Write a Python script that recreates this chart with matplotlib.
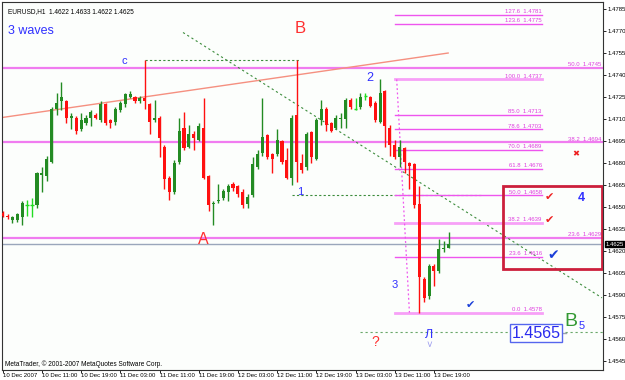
import matplotlib.pyplot as plt
import numpy as np

plt.rcParams['font.family'] = ['Liberation Sans', 'DejaVu Sans']

# EURUSD H1 bars, 10 Dec 2007 03:00 .. 13 Dec 22:00
opens = [1.4646, 1.4644, 1.4641, 1.4641, 1.4643, 1.4651, 1.4651, 1.4651, 1.4672, 1.4671,
         1.4681, 1.4717, 1.4722, 1.4722, 1.4711, 1.4711, 1.4703, 1.4707, 1.4711, 1.4713,
         1.4709, 1.4720, 1.4709, 1.4708, 1.4716, 1.4720, 1.4725, 1.4725, 1.4722, 1.4724,
         1.4720, 1.4709, 1.4711, 1.4691, 1.4670, 1.4660, 1.4681, 1.4704, 1.4691, 1.4700,
         1.4696, 1.4704, 1.4671, 1.4652, 1.4654, 1.4656, 1.4660, 1.4666, 1.4664, 1.4660,
         1.4652, 1.4658, 1.4677, 1.4687, 1.4699, 1.4686, 1.4686, 1.4695, 1.4682, 1.4670,
         1.4713, 1.4680, 1.4677, 1.4701, 1.4683, 1.4709, 1.4717, 1.4707, 1.4704, 1.4710,
         1.4710, 1.4723, 1.4717, 1.4718, 1.4726, 1.4725, 1.4721, 1.4708, 1.4729, 1.4704,
         1.4692, 1.4684, 1.4690, 1.4680, 1.4679, 1.4652, 1.4601, 1.4589, 1.4610, 1.4606,
         1.4621, 1.4622]
highs = [1.4647, 1.4645, 1.4644, 1.4646, 1.4654, 1.4655, 1.4656, 1.4674, 1.4677, 1.4685,
         1.4718, 1.4728, 1.4735, 1.4723, 1.4714, 1.4712, 1.4714, 1.4713, 1.4716, 1.4714,
         1.4722, 1.4721, 1.4710, 1.4718, 1.4722, 1.4728, 1.4729, 1.4726, 1.4726, 1.4750,
         1.4721, 1.4723, 1.4712, 1.4692, 1.4671, 1.4682, 1.4711, 1.4715, 1.4706, 1.4702,
         1.4707, 1.4724, 1.4672, 1.4654, 1.4666, 1.4662, 1.4666, 1.4667, 1.4665, 1.4662,
         1.4659, 1.4684, 1.4689, 1.4724, 1.4700, 1.4687, 1.4703, 1.4696, 1.4690, 1.4713,
         1.4750, 1.4686, 1.4701, 1.4702, 1.4711, 1.4723, 1.4718, 1.4708, 1.4713, 1.4714,
         1.4724, 1.4724, 1.4724, 1.4728, 1.4728, 1.4726, 1.4722, 1.4737, 1.4730, 1.4706,
         1.4696, 1.4696, 1.4691, 1.4681, 1.4680, 1.4664, 1.4602, 1.4611, 1.4611, 1.4628,
         1.4627, 1.4633]
lows = [1.4643, 1.4642, 1.4639, 1.4640, 1.4638, 1.4644, 1.4643, 1.4649, 1.4660, 1.4668,
        1.4680, 1.4713, 1.4716, 1.4707, 1.4703, 1.4700, 1.4702, 1.4706, 1.4705, 1.4710,
        1.4708, 1.4706, 1.4704, 1.4706, 1.4715, 1.4718, 1.4724, 1.4721, 1.4721, 1.4717,
        1.4700, 1.4708, 1.4684, 1.4662, 1.4655, 1.4659, 1.4679, 1.4689, 1.4690, 1.4689,
        1.4695, 1.4669, 1.4647, 1.4638, 1.4653, 1.4655, 1.4654, 1.4661, 1.4657, 1.4649,
        1.4649, 1.4657, 1.4676, 1.4685, 1.4683, 1.4673, 1.4685, 1.4679, 1.4669, 1.4665,
        1.4667, 1.4673, 1.4675, 1.4680, 1.4682, 1.4706, 1.4702, 1.4701, 1.4703, 1.4704,
        1.4704, 1.4717, 1.4716, 1.4717, 1.4723, 1.4718, 1.4708, 1.4707, 1.4691, 1.4685,
        1.4683, 1.4677, 1.4673, 1.4662, 1.4649, 1.4578, 1.4585, 1.4587, 1.4596, 1.4605,
        1.4619, 1.4622]
closes = [1.4644, 1.4643, 1.4643, 1.4645, 1.4653, 1.4651, 1.4651, 1.4673, 1.4673, 1.4683,
          1.4717, 1.4721, 1.4725, 1.4711, 1.4712, 1.4702, 1.4709, 1.4711, 1.4715, 1.4711,
          1.4720, 1.4707, 1.4707, 1.4717, 1.4721, 1.4727, 1.4727, 1.4722, 1.4724, 1.4722,
          1.4708, 1.4711, 1.4697, 1.4669, 1.4660, 1.4680, 1.4702, 1.4690, 1.4700, 1.4697,
          1.4705, 1.4670, 1.4651, 1.4653, 1.4655, 1.4661, 1.4664, 1.4663, 1.4659, 1.4651,
          1.4657, 1.4679, 1.4686, 1.4698, 1.4684, 1.4683, 1.4696, 1.4681, 1.4670, 1.4711,
          1.4681, 1.4675, 1.4700, 1.4684, 1.4709, 1.4717, 1.4706, 1.4702, 1.4711, 1.4711,
          1.4723, 1.4718, 1.4717, 1.4725, 1.4726, 1.4719, 1.4709, 1.4728, 1.4705, 1.4692,
          1.4684, 1.4691, 1.4681, 1.4678, 1.4651, 1.4602, 1.4588, 1.4610, 1.4606, 1.4621,
          1.4622, 1.4625]

time_labels = ['10 Dec 2007', '10 Dec 11:00', '10 Dec 19:00', '11 Dec 03:00', '11 Dec 11:00',
               '11 Dec 19:00', '12 Dec 03:00', '12 Dec 11:00', '12 Dec 19:00', '13 Dec 03:00',
               '13 Dec 11:00', '13 Dec 19:00']

# fibo retracement (wave 2 top -> wave 3 low)
fib_levels = [0.0, 23.6, 38.2, 50.0, 61.8, 70.0, 78.6, 85.0, 100.0, 123.6, 127.6]
fib_prices = [1.4578, 1.4616, 1.4639, 1.4658, 1.4676, 1.4689, 1.4703, 1.4713, 1.4737, 1.4775, 1.4781]

# full width levels
hl_names = ['50.0', '38.2', '23.6']
hl_prices = [1.4745, 1.4694, 1.4629]

bid = 1.4625
target = 1.4565

fs = 4.3  # small terminal font

fig = plt.figure(figsize=(6.25, 3.8), dpi=100)
fig.patch.set_facecolor('white')
ax = fig.add_axes([2 / 625, 10 / 380, 601 / 625, 368 / 380])
ax.set_facecolor('#fcfefc')

n = len(opens)
x = np.arange(n)
o = np.array(opens)
h = np.array(highs)
l = np.array(lows)
c = np.array(closes)

up_col = '#238b23'
dn_col = '#ff1010'
cols = np.where(c > o, up_col, np.where(c < o, dn_col, '#22dd22'))

# horizontal levels
for p in hl_prices:
    ax.axhline(p, color='#f07cf0', lw=1.6, zorder=1)
ax.axhline(bid, color='#9aa6bb', lw=1, zorder=1)

for name, p in zip(hl_names, hl_prices):
    ax.text(122.2, p + 0.00005, f'{name}  {p:.4f}', color='#e040e0', fontsize=fs,
            ha='right', va='bottom', zorder=5)

# salmon trendline
ax.plot([-0.14, 90.9], [1.4711, 1.4755], color='#f59080', lw=1, zorder=2)

# green dotted lines
ax.plot([29, 60.7], [1.4750, 1.4750], color='#3c8c3c', lw=0.8, ls=(0, (2, 2)), zorder=2)
ax.plot([36.8, 122.3], [1.4769, 1.4588], color='#3c8c3c', lw=0.8, ls=(0, (2, 2.5)), zorder=2)
ax.plot([59, 98], [1.4658, 1.4658], color='#3c8c3c', lw=0.8, ls=(0, (2, 2)), zorder=2)
ax.plot([73, 122.5], [target, target], color='#6aa86a', lw=0.8, ls=(0, (2, 2.5)), zorder=2)

# fibo lines
thick = {0.0, 38.2, 100.0}
for lvl, p in zip(fib_levels, fib_prices):
    if lvl in thick:
        ax.plot([80, 110], [p, p], color='#f7a0f7', lw=2, zorder=2)
    else:
        ax.plot([80, 110], [p, p], color='#ee55ee', lw=1, zorder=2)
    ax.text(110, p + 0.00005, f'{lvl:.1f}  {p:.4f}', color='#e040e0', fontsize=fs,
            ha='right', va='bottom', zorder=5)
ax.plot([80.4, 83.0], [fib_prices[8], fib_prices[0]], color='#ee55ee', lw=0.9,
        ls=(0, (1.5, 2)), zorder=2)

# candles
ax.vlines(x, l, h, colors=cols, lw=1, zorder=3)
body = np.abs(c - o)
flat = body < 0.00005
ax.bar(x[~flat], body[~flat], bottom=np.minimum(o, c)[~flat], width=0.62,
       color=cols[~flat], linewidth=0, zorder=4)
ax.hlines(c[flat], x[flat] - 0.35, x[flat] + 0.35, colors='#22dd22', lw=1, zorder=4)

# red rectangle
ax.add_patch(plt.Rectangle((102, 1.4608), 20.2, 1.4664 - 1.4608, fill=False,
                           edgecolor='#cc1f3c', lw=2, zorder=5))

# wave labels
ax.text(60.7, 1.4772, 'B', color='#ff3030', fontsize=12, ha='center', va='center')
ax.text(40.9, 1.4628, 'A', color='#ff3030', fontsize=11.5, ha='center', va='center')
ax.text(24.8, 1.4746, 'c', color='#3030ff', fontsize=8, ha='center', va='bottom')
ax.text(75, 1.4738, '2', color='#3030ff', fontsize=9, ha='center', va='center')
ax.text(60.7, 1.4660, '1', color='#3030ff', fontsize=8, ha='center', va='center')
ax.text(80, 1.4597, '3', color='#3030ff', fontsize=8, ha='center', va='center')
ax.text(118, 1.4656, '4', color='#3030ff', fontsize=9, fontweight='bold', ha='center', va='center')
ax.text(76, 1.4558, '?', color='#ff3030', fontsize=10, ha='center', va='center')
ax.text(87, 1.4563, 'Л', color='#3030ff', fontsize=9, ha='center', va='center')
ax.text(87, 1.4556, '˅', color='#9999ee', fontsize=7, ha='center', va='center')
ax.text(111.5, 1.4657, '✔', color='#ee2020', fontsize=8, ha='center', va='center',
        family='DejaVu Sans')
ax.text(111.5, 1.4641, '✔', color='#ee2020', fontsize=8, ha='center', va='center',
        family='DejaVu Sans')
ax.text(112.3, 1.4617, '✔', color='#1a3fd8', fontsize=10, ha='center', va='center',
        family='DejaVu Sans')
ax.text(95.4, 1.4583, '✔', color='#1a3fd8', fontsize=8, ha='center', va='center',
        family='DejaVu Sans')
ax.text(117, 1.4686, '✖', color='#ee2020', fontsize=6, ha='center', va='center',
        family='DejaVu Sans')
ax.text(116, 1.4572, 'B', color='#339933', fontsize=14, ha='center', va='center')
ax.text(118.2, 1.4569, '5', color='#3030ff', fontsize=8, ha='center', va='center')
ax.plot([113.8, 115.0], [target - 0.0001, target - 0.0001], color='#9aa0b0', lw=1, zorder=5)
ax.text(108.8, target - 0.0001, f'{target:.4f}', color='#2a2aee', fontsize=11.5, ha='center',
        va='center', zorder=6,
        bbox=dict(boxstyle='square,pad=0.1', fc='white', ec='#5566ee', lw=1))

ax.text(6 / 601, 1 - 6 / 368, 'EURUSD,H1  1.4622 1.4633 1.4622 1.4625', transform=ax.transAxes,
        fontsize=fs + 0.4, ha='left', va='top', color='black')
ax.text(6 / 601, 1 - 29 / 368, '3 waves', transform=ax.transAxes, fontsize=9,
        ha='left', va='center', color='#3030ff')
ax.text(3 / 601, 6 / 368, 'MetaTrader, © 2001-2007 MetaQuotes Software Corp.',
        transform=ax.transAxes, fontsize=fs + 0.4, ha='left', va='center', color='black')

# axes
ax.set_xlim(-0.14, 122.5)
ax.set_ylim(1.45388, 1.47898)
ax.yaxis.tick_right()
yt = np.arange(1.4545, 1.4786, 0.0015)
ax.set_yticks(yt)
ax.set_yticklabels([f'{v:.4f}' for v in yt])
ax.tick_params(axis='y', length=2.5, width=0.6, labelsize=fs, pad=1, colors='black')
ax.set_xticks(np.arange(0, 8 * len(time_labels), 8))
ax.set_xticklabels(time_labels, ha='left')
ax.tick_params(axis='x', length=2, width=0.6, labelsize=fs, pad=0.5)
for s in ax.spines.values():
    s.set_color('#333333')
    s.set_linewidth(0.8)

fig.text(606 / 625, 1 - 244 / 380, f'{bid:.4f}', fontsize=fs, color='white',
         ha='left', va='center', bbox=dict(boxstyle='square,pad=0.15', fc='black', ec='black'))

fig.savefig('out.png', dpi=100)
